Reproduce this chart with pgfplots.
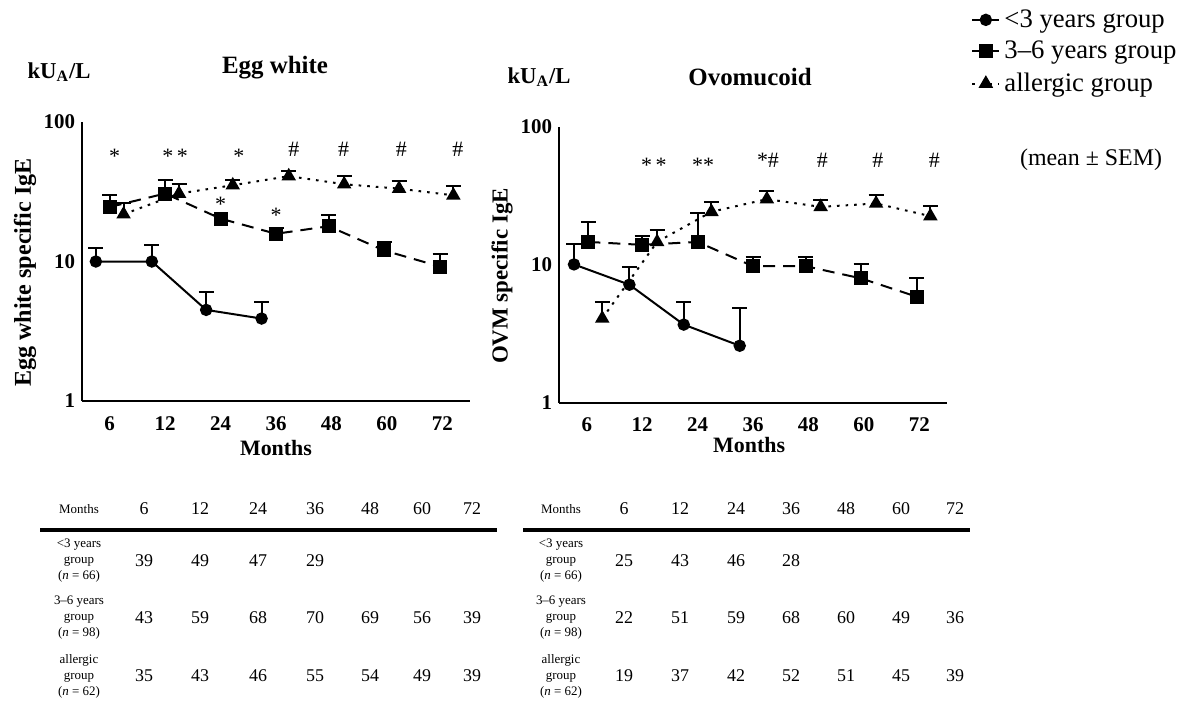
\documentclass[border=0pt]{standalone}
\usepackage{fontspec}
\setmainfont{Liberation Serif}
\usepackage{pgfplots}
\pgfplotsset{compat=1.18}
\pgfplotstableread{
x y e
-0.25 10.0 2.5
0.76 10.0 3.2
1.74 4.5 1.5
2.74 3.9 1.25
}\ewA
\pgfplotstableread{
x y e
0.00 24.6 5.2
1.00 30.7 7.6
2.00 20.3 1.2
3.00 15.8 1.6
3.95 17.9 3.8
4.95 12.0 1.9
5.96 9.2 2.2
}\ewB
\pgfplotstableread{
x y e
0.25 21.8 4.6
1.25 30.7 5.1
2.22 35.2 3.1
3.23 40.9 3.3
4.23 35.8 5.1
5.22 33.3 4.3
6.20 29.8 4.9
}\ewC
\pgfplotstableread{
x y e
-0.23 10.1 4.1
0.77 7.2 2.4
1.75 3.7 1.7
2.76 2.6 2.3
}\ovA
\pgfplotstableread{
x y e
0.03 14.7 5.9
1.00 14.0 2.3
2.00 14.7 9.3
3.00 9.8 1.6
3.95 9.8 1.6
4.95 8.0 2.2
5.95 5.9 2.1
}\ovB
\pgfplotstableread{
x y e
0.28 4.1 1.3
1.27 14.7 3.2
2.25 24.3 4.4
3.25 30.0 4.3
4.22 26.4 3.1
5.22 27.9 4.2
6.20 22.6 4.1
}\ovC
\begin{document}
\begin{tikzpicture}[x=0.5bp,y=-0.5bp]
\path[use as bounding box] (0,0) rectangle (1189,701);
% left axis
\begin{axis}[at={(41bp,-200.5bp)}, anchor=south west, scale only axis, width=194bp, height=139.5bp,
    ymode=log, ymin=1, ymax=100,
    xmin=-0.5, xmax=6.5, axis lines=left, axis line style={line width=1bp,-},
    ytick={1,10,100}, yticklabels={1,10,100},
    xtick={0,...,6}, xticklabels={6,12,24,36,48,60,72},
    major tick length=0pt, minor tick length=0pt,
    tick label style={font=\bfseries\fontsize{10.5}{12}\selectfont},
    xticklabel style={yshift=-4.5bp},
    clip=false,
    xlabel={Months}, ylabel={Egg white specific IgE},
    every axis x label/.style={at={(axis description cs:0.5,-0.17)}, anchor=center, font=\bfseries\fontsize{11}{13}\selectfont},
    every axis y label/.style={at={(axis description cs:-0.147,0.46)}, rotate=90, anchor=center, font=\bfseries\fontsize{12.1}{13}\selectfont}]
\addplot[black, solid, line width=1bp, mark=*, mark size=2.6bp,
  error bars/y dir=plus, error bars/y explicit,
  error bars/error bar style={line width=1bp, solid},
  error bars/error mark options={line width=1bp, mark size=3.75bp, solid, rotate=90}]
  table[x=x,y=y,y error plus=e] {\ewA};
\addplot[black, line width=1bp, dash pattern=on 6bp off 4bp, mark=square*, mark size=3bp, mark options={solid},
  error bars/y dir=plus, error bars/y explicit,
  error bars/error bar style={line width=1bp, solid},
  error bars/error mark options={line width=1bp, mark size=3.75bp, solid, rotate=90}]
  table[x=x,y=y,y error plus=e] {\ewB};
\addplot[black, line width=1bp, dash pattern=on 1.3bp off 3bp, mark=triangle*, mark size=3.2bp, mark options={solid},
  error bars/y dir=plus, error bars/y explicit,
  error bars/error bar style={line width=1bp, solid},
  error bars/error mark options={line width=1bp, mark size=3.75bp, solid, rotate=90}]
  table[x=x,y=y,y error plus=e] {\ewC};
\node[font=\fontsize{11}{12}\selectfont] at (axis cs:0.09,57) {*};
\node[font=\fontsize{11}{12}\selectfont] at (axis cs:1.18,57) {*\,*};
\node[font=\fontsize{11}{12}\selectfont] at (axis cs:2.33,57) {*};
\node[font=\fontsize{11}{12}\selectfont] at (axis cs:2.0,25.5) {*};
\node[font=\fontsize{11}{12}\selectfont] at (axis cs:3.0,21.5) {*};
\node[font=\fontsize{11}{12}\selectfont] at (axis cs:3.32,64) {\#};
\node[font=\fontsize{11}{12}\selectfont] at (axis cs:4.22,64) {\#};
\node[font=\fontsize{11}{12}\selectfont] at (axis cs:5.26,64) {\#};
\node[font=\fontsize{11}{12}\selectfont] at (axis cs:6.28,64) {\#};
\end{axis}
% right axis
\begin{axis}[at={(279.5bp,-201.5bp)}, anchor=south west, scale only axis, width=194bp, height=138bp,
    ymode=log, ymin=1, ymax=100,
    xmin=-0.5, xmax=6.5, axis lines=left, axis line style={line width=1bp,-},
    ytick={1,10,100}, yticklabels={1,10,100},
    xtick={0,...,6}, xticklabels={6,12,24,36,48,60,72},
    major tick length=0pt, minor tick length=0pt,
    tick label style={font=\bfseries\fontsize{10.5}{12}\selectfont},
    xticklabel style={yshift=-4bp},
    clip=false,
    xlabel={Months}, ylabel={OVM specific IgE},
    every axis y label/.style={at={(axis description cs:-0.147,0.46)}, rotate=90, anchor=center, font=\bfseries\fontsize{11.5}{13}\selectfont},
    every axis x label/.style={at={(axis description cs:0.49,-0.152)}, anchor=center, font=\bfseries\fontsize{11}{13}\selectfont},
    legend style={at={(1.046,1.456)}, anchor=north west, draw=none, fill=none,
      font=\fontsize{13.4}{15}\selectfont, row sep=1.5bp},
    legend cell align=left,
    legend image code/.code={\draw[mark repeat=2,mark phase=2] plot coordinates {(0cm,0cm) (0.24cm,0cm) (0.48cm,0cm)};}]
\addplot[black, solid, line width=1bp, mark=*, mark size=2.6bp,
  error bars/y dir=plus, error bars/y explicit,
  error bars/error bar style={line width=1bp, solid},
  error bars/error mark options={line width=1bp, mark size=3.75bp, solid, rotate=90}]
  table[x=x,y=y,y error plus=e] {\ovA};
\addlegendentry{<3 years group}
\addplot[black, line width=1bp, dash pattern=on 6bp off 4bp, mark=square*, mark size=3bp, mark options={solid},
  error bars/y dir=plus, error bars/y explicit,
  error bars/error bar style={line width=1bp, solid},
  error bars/error mark options={line width=1bp, mark size=3.75bp, solid, rotate=90}]
  table[x=x,y=y,y error plus=e] {\ovB};
\addlegendentry{3–6 years group}
\addplot[black, line width=1bp, dash pattern=on 1.3bp off 3bp, mark=triangle*, mark size=3.2bp, mark options={solid},
  error bars/y dir=plus, error bars/y explicit,
  error bars/error bar style={line width=1bp, solid},
  error bars/error mark options={line width=1bp, mark size=3.75bp, solid, rotate=90}]
  table[x=x,y=y,y error plus=e] {\ovC};
\addlegendentry{allergic group}
\node[font=\fontsize{11}{12}\selectfont] at (axis cs:1.21,53) {*\,*};
\node[font=\fontsize{11}{12}\selectfont] at (axis cs:2.1,53) {**};
\node[font=\fontsize{11}{12}\selectfont] at (axis cs:3.27,57) {*\#};
\node[font=\fontsize{11}{12}\selectfont] at (axis cs:4.25,57) {\#};
\node[font=\fontsize{11}{12}\selectfont] at (axis cs:5.25,57) {\#};
\node[font=\fontsize{11}{12}\selectfont] at (axis cs:6.27,57) {\#};
\end{axis}
% titles
\node[font=\bfseries\fontsize{12.5}{14}\selectfont] at (275,68) {Egg white};
\node[font=\bfseries\fontsize{12.5}{14}\selectfont] at (750,77) {Ovomucoid};
\node[font=\bfseries\fontsize{11.4}{13}\selectfont] at (59,72) {kU\textsubscript{A}/L};
\node[font=\bfseries\fontsize{11.4}{13}\selectfont] at (539,77) {kU\textsubscript{A}/L};
\node[font=\fontsize{12}{14}\selectfont] at (1091,160) {(mean ± SEM)};
% tables
\node[font=\fontsize{6.5}{8}\selectfont] at (79,509) {Months};
\node[font=\fontsize{6.5}{8}\selectfont] at (561,509) {Months};
\draw[line width=2bp] (40,530) -- (497,530);
\draw[line width=2bp] (523,530) -- (970,530);
\foreach \lx in {79,561}{
  \node[align=center, font=\fontsize{6.5}{8}\selectfont] at (\lx,561) {<3 years\\group\\(\textit{n} = 66)};
  \node[align=center, font=\fontsize{6.5}{8}\selectfont] at (\lx,618) {3–6 years\\group\\(\textit{n} = 98)};
  \node[align=center, font=\fontsize{6.5}{8}\selectfont] at (\lx,676) {allergic\\group\\(\textit{n} = 62)};
}
\foreach \x/\m in {144/6,200/12,258/24,315/36,370/48,422/60,472/72,624/6,680/12,736/24,791/36,846/48,901/60,955/72}{
  \node[font=\fontsize{9}{11}\selectfont] at (\x,509) {\m};}
\foreach \x/\v in {144/39,200/49,258/47,315/29}{\node[font=\fontsize{9}{11}\selectfont] at (\x,561) {\v};}
\foreach \x/\v in {144/43,200/59,258/68,315/70,370/69,422/56,472/39}{\node[font=\fontsize{9}{11}\selectfont] at (\x,618) {\v};}
\foreach \x/\v in {144/35,200/43,258/46,315/55,370/54,422/49,472/39}{\node[font=\fontsize{9}{11}\selectfont] at (\x,676) {\v};}
\foreach \x/\v in {624/25,680/43,736/46,791/28}{\node[font=\fontsize{9}{11}\selectfont] at (\x,561) {\v};}
\foreach \x/\v in {624/22,680/51,736/59,791/68,846/60,901/49,955/36}{\node[font=\fontsize{9}{11}\selectfont] at (\x,618) {\v};}
\foreach \x/\v in {624/19,680/37,736/42,791/52,846/51,901/45,955/39}{\node[font=\fontsize{9}{11}\selectfont] at (\x,676) {\v};}
\end{tikzpicture}
\end{document}
